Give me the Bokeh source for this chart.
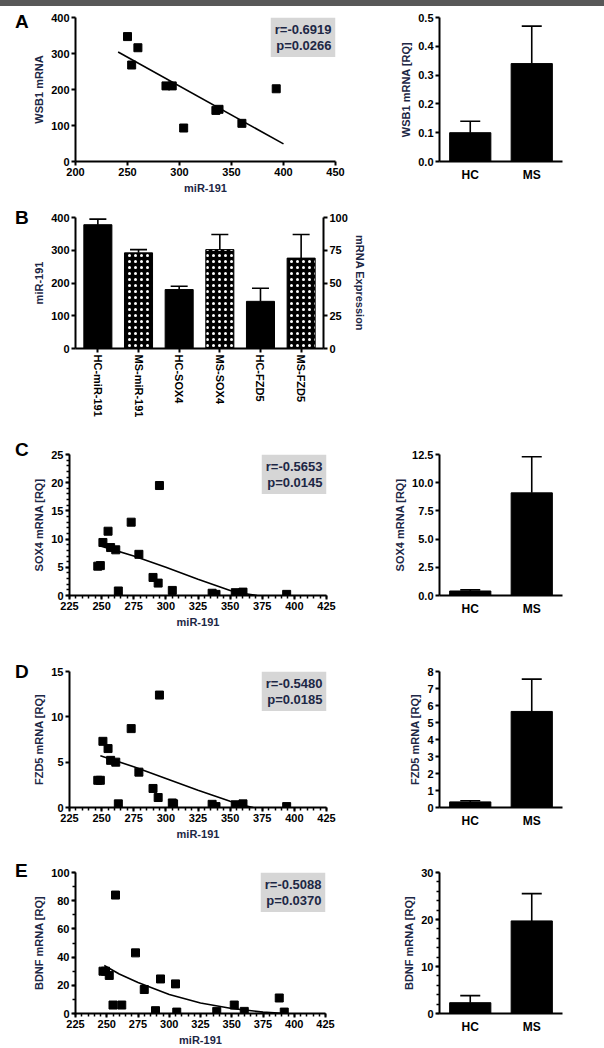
from bokeh.plotting import figure
from bokeh.layouts import column, row
from bokeh.models import (Range1d, FactorRange, LinearAxis, Label, Whisker, TeeHead, Div,
                          ColumnDataSource, FixedTicker, PrintfTickFormatter)
from bokeh.embed import file_html
from bokeh.resources import INLINE

FONT = "Liberation Sans"
NAVY = "#1d2745"
BOXGRAY = "#d6d6d6"

# ---------------- data ----------------
groups = ["HC", "MS"]
panel_letters = ["A", "B", "C", "D", "E"]

# Panel A
a_mir = [250, 254, 260, 287, 293, 304, 335, 338, 360, 393]
a_wsb1 = [347, 268, 316, 210, 210, 93, 142, 145, 106, 202]
a_fit_x = [241, 400]
a_fit_y = [304, 49]
a_stats = "r=-0.6919\np=0.0266"
a_bar = [0.10, 0.34]
a_bar_top = [0.14, 0.47]
a_xticks = [200, 250, 300, 350, 400, 450]
a_yticks = [0, 100, 200, 300, 400]
a_bticks = [0.0, 0.1, 0.2, 0.3, 0.4, 0.5]

# Panel B
b_cats = ["HC-miR-191", "MS-miR-191", "HC-SOX4", "MS-SOX4", "HC-FZD5", "MS-FZD5"]
b_mir_cats = ["HC-miR-191", "MS-miR-191"]
b_mir_vals = [378, 292]
b_mir_top = [395, 302]
b_mrna_cats = ["HC-SOX4", "MS-SOX4", "HC-FZD5", "MS-FZD5"]
b_mrna_vals = [45, 75.5, 36, 69]
b_mrna_top = [47.5, 87, 46, 87]
b_left_ticks = [0, 100, 200, 300, 400]
b_right_ticks = [0, 25, 50, 75, 100]

# Panel C
c_mir = [247, 249, 251, 255, 257, 261, 263, 273, 279, 290, 294, 295, 305, 336, 339, 354, 360, 394]
c_sox4 = [5.2, 5.3, 9.4, 11.4, 8.5, 8.1, 0.8, 13.0, 7.3, 3.2, 2.2, 19.5, 0.9, 0.4, 0.2, 0.5, 0.6, 0.2]
c_fit_x = [249, 275, 300, 325, 350, 362, 371]
c_fit_y = [8.8, 7.0, 5.0, 2.9, 0.9, 0.3, 0.0]
c_stats = "r=-0.5653\np=0.0145"
c_bar = [0.4, 9.1]
c_bar_top = [0.5, 12.3]
c_yticks = [0, 5, 10, 15, 20, 25]
c_bticks = [0.0, 2.5, 5.0, 7.5, 10.0, 12.5]

# Panel D
d_mir = [247, 249, 251, 255, 257, 261, 263, 273, 279, 290, 294, 295, 305, 306, 336, 339, 354, 360, 394]
d_fzd5 = [3.0, 3.0, 7.3, 6.5, 5.2, 5.0, 0.4, 8.7, 3.9, 2.1, 1.1, 12.4, 0.5, 0.4, 0.35, 0.1, 0.3, 0.4, 0.1]
d_fit_x = [249, 275, 300, 325, 350, 360, 368]
d_fit_y = [5.7, 4.5, 3.2, 1.9, 0.7, 0.25, 0.0]
d_stats = "r=-0.5480\np=0.0185"
d_bar = [0.33, 5.65]
d_bar_top = [0.40, 7.55]
d_yticks = [0, 5, 10, 15]
d_bticks = [0, 1, 2, 3, 4, 5, 6, 7, 8]

# Panel E
e_mir = [247, 249, 252, 255, 257, 262, 273, 280, 289, 293, 305, 306, 338, 352, 360, 388, 392]
e_bdnf = [30, 30, 27, 6, 84, 6, 43, 17, 2, 24.5, 21, 1, 1.5, 6, 1.5, 11, 1]
e_fit_x = [248, 260, 275, 300, 325, 350, 375, 393]
e_fit_y = [34, 28, 22, 13.5, 7.5, 3.5, 1.0, 0.0]
e_stats = "r=-0.5088\np=0.0370"
e_bar = [2.3, 19.7]
e_bar_top = [3.8, 25.5]
e_yticks = [0, 20, 40, 60, 80, 100]
e_bticks = [0, 10, 20, 30]

cde_xticks = [225, 250, 275, 300, 325, 350, 375, 400, 425]

LW = 30     # width of the letter strip
TOTAL_W = 604


# ---------------- helpers ----------------
def make_fig(w, h, left, right, top, bottom, x_range, y_range):
    p = figure(width=w, height=h, x_range=x_range, y_range=y_range, title=None,
               min_border_left=left, min_border_right=right,
               min_border_top=top, min_border_bottom=bottom,
               toolbar_location=None, output_backend="svg")
    p.grid.visible = False
    p.outline_line_color = None
    p.background_fill_color = "white"
    p.border_fill_color = "white"
    return p


def letter_div(h, text, ytop):
    html = ('<div style="width:15px;margin:0;padding:0;padding-left:15px;'
            'padding-top:%dpx;font-family:\'Liberation Sans\',Arial,sans-serif;'
            'font-weight:bold;font-size:19px;line-height:22px;color:black;">%s</div>'
            % (ytop - 11, text))
    return Div(text=html, width=LW, height=h, margin=(0, 0, 0, 0))


def style_axis(ax):
    ax.axis_line_width = 2
    ax.axis_line_color = "black"
    ax.major_tick_line_width = 2
    ax.major_tick_line_color = "black"
    ax.major_tick_out = 4
    ax.major_tick_in = 0
    ax.minor_tick_line_width = 1.5
    ax.minor_tick_line_color = "black"
    ax.minor_tick_out = 3
    ax.minor_tick_in = 0
    ax.major_label_text_font = FONT
    ax.major_label_text_font_style = "bold"
    ax.major_label_text_font_size = "11px"
    ax.major_label_text_color = "black"
    ax.axis_label_text_font = FONT
    ax.axis_label_text_font_style = "bold"
    ax.axis_label_text_font_size = "11px"
    ax.axis_label_text_color = NAVY
    ax.major_label_standoff = 2
    ax.axis_label_standoff = 3


def stats_box(p, text, x, y):
    p.add_layout(Label(x=x, y=y, text=text, text_align="right", text_baseline="top",
                       background_fill_color=BOXGRAY, padding=4,
                       text_font=FONT, text_font_style="bold", text_font_size="13px",
                       text_color=NAVY, text_line_height=1.1))


def scatter_panel(w, h, left, right, top, bottom, xr, yr, xs, ys, fx, fy, xticks, yticks,
                  ylabel, stats, xminor=0, yminor=0):
    p = make_fig(w, h, left, right, top, bottom, Range1d(*xr), Range1d(*yr))
    p.xaxis.ticker = FixedTicker(ticks=xticks, minor_ticks=(
        [v for v in range(xticks[0], xticks[-1] + 1, xminor)] if xminor else []))
    p.yaxis.ticker = FixedTicker(ticks=yticks, minor_ticks=(
        [v for v in range(yticks[0], yticks[-1] + 1, yminor)] if yminor else []))
    p.xaxis.axis_label = "miR-191"
    p.yaxis.axis_label = ylabel
    for ax in p.axis:
        style_axis(ax)
    p.line(fx, fy, line_color="black", line_width=1.6)
    p.scatter(xs, ys, marker="square", size=8, fill_color="black", line_color="black")
    stats_box(p, stats, xr[1], yr[1])
    return p


def bar_panel(w, h, left, right, top, bottom, ymax, vals, tops, yticks, ylabel, fmt=None,
              yminor=None):
    p = make_fig(w, h, left, right, top, bottom,
                 FactorRange(factors=groups, range_padding=0), Range1d(0, ymax))
    src = ColumnDataSource(dict(g=groups, v=vals, t=tops))
    p.vbar(x="g", top="v", width=0.67, source=src, fill_color="black", line_color="black")
    p.add_layout(Whisker(base="g", upper="t", lower="v", source=src,
                         upper_head=TeeHead(size=20, line_width=1.6, line_color="black"),
                         lower_head=None, line_width=1.6, line_color="black"))
    p.yaxis.ticker = FixedTicker(ticks=yticks, minor_ticks=yminor or [])
    if fmt:
        p.yaxis.formatter = PrintfTickFormatter(format=fmt)
    p.yaxis.axis_label = ylabel
    for ax in p.axis:
        style_axis(ax)
    p.xaxis.major_tick_line_color = None
    p.xaxis.major_label_text_font_size = "12px"
    return p


band = Div(text="", width=TOTAL_W, height=6, margin=(0, 0, 0, 0),
           styles={"background-color": "#585858"})

# ---------------- Row A (y 6..198) ----------------
lA = letter_div(192, panel_letters[0], 16)
pA = scatter_panel(345, 192, 43, 40, 11, 37, (200, 450), (0, 400), a_mir, a_wsb1,
                   a_fit_x, a_fit_y, a_xticks, a_yticks, "WSB1 mRNA", a_stats)
pA2 = bar_panel(229, 192, 64, 42, 11, 31, 0.5, a_bar, a_bar_top, a_bticks, "WSB1 mRNA [RQ]", "%.1f")

# ---------------- Row B (y 198..420) ----------------
lB = letter_div(222, panel_letters[1], 20)
pB = make_fig(358, 222, 40, 65, 19, 66,
              FactorRange(factors=b_cats, range_padding=0.05, range_padding_units="absolute"),
              Range1d(0, 400))
pB.extra_y_ranges = {"mrna": Range1d(0, 100)}
pB.add_layout(LinearAxis(y_range_name="mrna", axis_label="mRNA Expression",
                         ticker=FixedTicker(ticks=b_right_ticks)), "right")
srcB1 = ColumnDataSource(dict(c=b_mir_cats, v=b_mir_vals, t=b_mir_top,
                              h=[" " if c.startswith("HC") else "dot" for c in b_mir_cats]))
srcB2 = ColumnDataSource(dict(c=b_mrna_cats, v=b_mrna_vals, t=b_mrna_top,
                              h=[" " if c.startswith("HC") else "dot" for c in b_mrna_cats]))
pB.vbar(x="c", top="v", width=0.69, source=srcB1, fill_color="black", line_color="black",
        hatch_pattern="h", hatch_color="white", hatch_scale=6, hatch_weight=1)
pB.vbar(x="c", top="v", width=0.69, source=srcB2, fill_color="black", line_color="black",
        hatch_pattern="h", hatch_color="white", hatch_scale=6, hatch_weight=1,
        y_range_name="mrna")
pB.add_layout(Whisker(base="c", upper="t", lower="v", source=srcB1,
                      upper_head=TeeHead(size=17, line_width=1.6, line_color="black"),
                      lower_head=None, line_width=1.6, line_color="black"))
pB.add_layout(Whisker(base="c", upper="t", lower="v", source=srcB2, y_range_name="mrna",
                      upper_head=TeeHead(size=17, line_width=1.6, line_color="black"),
                      lower_head=None, line_width=1.6, line_color="black"))
pB.yaxis[0].ticker = FixedTicker(ticks=b_left_ticks)
pB.yaxis[0].axis_label = "miR-191"
for ax in pB.axis:
    style_axis(ax)
pB.xaxis.major_label_orientation = "vertical"

# ---------------- Row C (y 420..630) ----------------
lC = letter_div(210, panel_letters[2], 30)
pC = scatter_panel(345, 210, 35, 49, 34, 34, (225, 425), (0, 25), c_mir, c_sox4,
                   c_fit_x, c_fit_y, cde_xticks, c_yticks, "SOX4 mRNA [RQ]", c_stats,
                   xminor=5, yminor=1)
pC2 = bar_panel(229, 210, 64, 42, 33, 27, 12.5, c_bar, c_bar_top, c_bticks, "SOX4 mRNA [RQ]", "%.1f")

# ---------------- Row D (y 630..842) ----------------
lD = letter_div(212, panel_letters[3], 42)
pD = scatter_panel(345, 212, 35, 49, 41, 29, (225, 425), (0, 15), d_mir, d_fzd5,
                   d_fit_x, d_fit_y, cde_xticks, d_yticks, "FZD5 mRNA [RQ]", d_stats,
                   xminor=5)
pD2 = bar_panel(229, 212, 64, 42, 34, 28, 8, d_bar, d_bar_top, d_bticks, "FZD5 mRNA [RQ]")

# ---------------- Row E (y 842..1048) ----------------
lE = letter_div(206, panel_letters[4], 29)
pE = scatter_panel(345, 206, 43, 50, 29, 34, (225, 425), (0, 100), e_mir, e_bdnf,
                   e_fit_x, e_fit_y, cde_xticks, e_yticks, "BDNF mRNA [RQ]", e_stats,
                   xminor=5, yminor=10)
pE2 = bar_panel(229, 206, 64, 42, 30, 26, 30, e_bar, e_bar_top, e_bticks, "BDNF mRNA [RQ]",
                yminor=list(range(0, 31, 2)))

layout = column(band, row(lA, pA, pA2), row(lB, pB), row(lC, pC, pC2), row(lD, pD, pD2),
                row(lE, pE, pE2))

open("out.html", "w").write(file_html(layout, INLINE))
